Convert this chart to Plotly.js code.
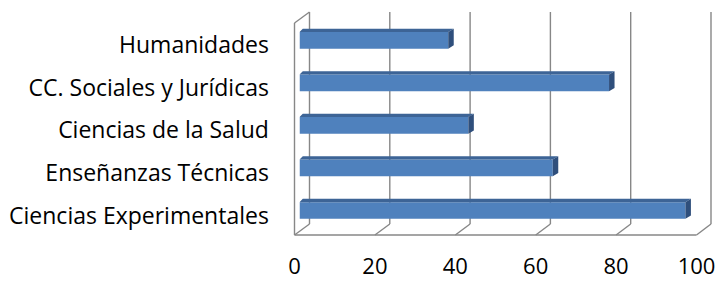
<!DOCTYPE html>
<html><head><meta charset="utf-8">
<script src="https://cdn.plot.ly/plotly-3.0.1.min.js"></script>
<style>html,body{margin:0;padding:0;background:#fff}</style>
</head><body><div id="chart" style="width:717px;height:282px"></div>
<script>
// ---- data ----
const categories = ["Ciencias Experimentales","Enseñanzas Técnicas","Ciencias de la Salud","CC. Sociales y Jurídicas","Humanidades"];
const values = [96, 63, 42, 77, 37];
const tickValues = [0, 20, 40, 60, 80, 100];
const tickLabels = ["0", "20", "40", "60", "80", "100"];

// ---- geometry (pixels) ----
const W = 717, H = 282;
const fx = p => p / W, fy = p => 1 - p / H;
const barX0 = 299.5, barX100 = 701.5;          // bar front faces
const frontX0 = 294.5, frontX100 = 696.5, floorY = 235; // front plane
const backX0 = 309.5, backX100 = 711, backTop = 12, backBot = 224; // back wall
const wallTop = 23;
const catY0 = 210.5, catStep = 42.55, labelShift = 5;
const barW = 0.392;
const pxPerUnitX = (barX100 - barX0) / 100;
const dx = 5.5 / pxPerUnitX, dy = 3.3 / catStep;

const idx = categories.map((_, i) => i);
const yTopPx = catY0 - 4.5 * catStep, yBotPx = catY0 + 0.5 * catStep;

// top faces and side faces built from values
const topX = [], topY = [], sideX = [], sideY = [];
values.forEach((v, i) => {
  const t = i + barW / 2, b = i - barW / 2;
  topX.push(0, v, v + dx, dx * 0.6, 0, null);
  topY.push(t, t, t + dy, t + dy, t, null);
  sideX.push(v, v + dx, v + dx, v, v, null);
  sideY.push(t, t + dy, b + dy, b, t, null);
});

const lineColor = '#878787';
const shapes = [];
const L = (x0, y0, x1, y1) => shapes.push({type: 'line', xref: 'paper', yref: 'paper', layer: 'below',
  x0: fx(x0), y0: fy(y0), x1: fx(x1), y1: fy(y1), line: {color: lineColor, width: 1.4}});
tickValues.forEach(t => {
  const bx = backX0 + (backX100 - backX0) * t / 100;
  const fxp = frontX0 + (frontX100 - frontX0) * t / 100;
  L(bx, backTop, bx, backBot);      // back wall gridline
  L(fxp, floorY, bx, backBot);      // floor diagonal
});
L(frontX0, floorY, frontX100, floorY); // floor front edge
L(frontX0, floorY, frontX0, wallTop);  // left wall front edge
L(frontX0, wallTop, backX0, backTop);  // left wall top edge

const catFont = {family: 'Open Sans, sans-serif', size: 23, color: '#000'};
const tickFont = {family: 'Open Sans, sans-serif', size: 22, color: '#000'};

const data = [
  {type: 'bar', orientation: 'h', x: values, y: idx, width: barW, xaxis: 'x', yaxis: 'y',
   marker: {color: '#4f81bd', line: {width: 0}}, hoverinfo: 'skip'},
  {type: 'scatter', mode: 'lines', x: topX, y: topY, fill: 'toself', fillcolor: '#3d6496',
   line: {width: 0, color: '#3d6496'}, xaxis: 'x', yaxis: 'y', hoverinfo: 'skip'},
  {type: 'scatter', mode: 'lines', x: sideX, y: sideY, fill: 'toself', fillcolor: '#2f4f7c',
   line: {width: 0, color: '#2f4f7c'}, xaxis: 'x', yaxis: 'y', hoverinfo: 'skip'},
  // invisible trace to carry the label axes
  {type: 'scatter', mode: 'markers', x: [0], y: [0], xaxis: 'x2', yaxis: 'y2',
   marker: {opacity: 0}, hoverinfo: 'skip'}
];

const layout = {
  width: W, height: H, margin: {l: 0, r: 0, t: 0, b: 0},
  paper_bgcolor: '#fff', plot_bgcolor: 'rgba(0,0,0,0)', showlegend: false,
  shapes: shapes,
  xaxis: {domain: [fx(barX0), fx(barX100)], range: [0, 100], visible: false, fixedrange: true},
  yaxis: {domain: [fy(yBotPx), fy(yTopPx)], range: [-0.5, 4.5], visible: false, fixedrange: true},
  xaxis2: {domain: [fx(frontX0), fx(frontX100)], range: [0, 100], anchor: 'y2',
    tickvals: tickValues, ticktext: tickLabels, showgrid: false, zeroline: false, showline: false,
    ticks: 'outside', ticklen: 12, tickcolor: 'rgba(0,0,0,0)', tickfont: tickFont},
  yaxis2: {domain: [fy(floorY), fy(yTopPx + labelShift)],
    range: [-0.5 - (floorY - yBotPx - labelShift) / catStep, 4.5], anchor: 'x2',
    tickvals: idx, ticktext: categories, showgrid: false, zeroline: false, showline: false,
    ticks: 'outside', ticklen: 20, tickcolor: 'rgba(0,0,0,0)', tickfont: catFont}
};

Plotly.newPlot('chart', data, layout, {displayModeBar: false, staticPlot: true});
</script></body></html>
